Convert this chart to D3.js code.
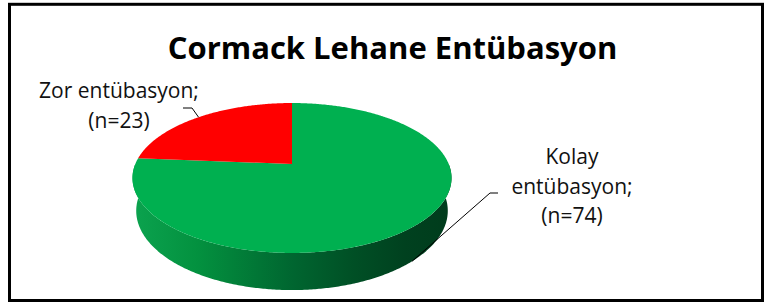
<!DOCTYPE html>
<html>
<head>
<meta charset="utf-8">
<script src="https://cdn.jsdelivr.net/npm/d3@7"></script>
<style>
  body { margin: 0; background: #fff; }
  svg { display: block; }
</style>
</head>
<body>
<div id="chart"></div>
<script>
// Chart data
var categories = ["Kolay entübasyon", "Zor entübasyon"];
var counts = [74, 23];
var labelLines = [["Kolay", "entübasyon;", "(n=74)"], ["Zor entübasyon;", "(n=23)"]];
var sliceColors = ["#00b050", "#ff0000"];
var chartTitle = "Cormack Lehane Entübasyon";

var width = 768, height = 304;

var svg = d3.select("#chart").append("svg")
    .attr("width", width)
    .attr("height", height);

// Simple perspective camera looking down at a unit disk
var cam = { cx: 292, cy: 164, f: 744.7, dist: 4.752, tilt: 27.5 * Math.PI / 180, thick: 0.238 };
var sinT = Math.sin(cam.tilt), cosT = Math.cos(cam.tilt);

function project(u, v, h) {
    var z = cam.dist - h * sinT - v * cosT;
    return [cam.cx + cam.f * u / z, cam.cy - cam.f * (h * cosT - v * sinT) / z];
}
// angle 0 = back of the pie (top of screen), clockwise
function rim(a, h) {
    return project(Math.sin(a), -Math.cos(a), h);
}
function arcPoints(a0, a1, h) {
    var n = Math.max(2, Math.ceil(Math.abs(a1 - a0) / 0.01));
    return d3.range(n + 1).map(function (i) { return rim(a0 + (a1 - a0) * i / n, h); });
}

var pie = d3.pie().sort(null).startAngle(0).endAngle(2 * Math.PI);
var arcs = pie(counts);
var line = d3.line();

// Side gradient (lighter on the left, dark on the right)
var defs = svg.append("defs");
var grad = defs.append("linearGradient")
    .attr("id", "sideGrad")
    .attr("gradientUnits", "userSpaceOnUse")
    .attr("x1", rim(3 * Math.PI / 2, 0)[0]).attr("x2", rim(Math.PI / 2, 0)[0])
    .attr("y1", 0).attr("y2", 0);
[[0, "#0ba24e"], [0.2, "#03913f"], [0.5, "#006630"], [0.7, "#004f25"], [0.86, "#00411f"], [1, "#003c1c"]]
    .forEach(function (s) { grad.append("stop").attr("offset", s[0]).attr("stop-color", s[1]); });

// Front side of each slice (only the part facing the viewer)
var sideFrom = Math.PI / 2, sideTo = 3 * Math.PI / 2;
arcs.forEach(function (d) {
    var a0 = Math.max(d.startAngle, sideFrom), a1 = Math.min(d.endAngle, sideTo);
    if (a1 <= a0) return;
    var pts = arcPoints(a0, a1, 0).concat(arcPoints(a1, a0, -cam.thick));
    svg.append("path")
        .attr("d", line(pts) + "Z")
        .attr("fill", d.index === 0 ? "url(#sideGrad)" : d3.color(sliceColors[d.index]).darker(1));
});

// Top faces
arcs.forEach(function (d) {
    var pts = [project(0, 0, 0)].concat(arcPoints(d.startAngle, d.endAngle, 0));
    svg.append("path")
        .attr("d", line(pts) + "Z")
        .attr("fill", sliceColors[d.index]);
});

// Title
svg.append("text")
    .attr("x", 392.5)
    .attr("y", 59)
    .attr("text-anchor", "middle")
    .attr("font-family", "'Open Sans', sans-serif")
    .attr("font-weight", "bold")
    .attr("font-size", 31)
    .attr("fill", "#000")
    .text(chartTitle);

// Data labels with leader lines
var labelPos = [
    { x: 572, y: 164, elbow: [498, 490, 193], h: -cam.thick },
    { x: 119, y: 98, elbow: [183, 192, 108], h: 0 }
];
arcs.forEach(function (d) {
    var p = labelPos[d.index];
    var mid = (d.startAngle + d.endAngle) / 2;
    var end = rim(mid, p.h);
    svg.append("path")
        .attr("d", line([[p.elbow[0], p.elbow[2]], [p.elbow[1], p.elbow[2]], end]))
        .attr("fill", "none")
        .attr("stroke", "#000")
        .attr("stroke-width", 1);

    var t = svg.append("text")
        .attr("text-anchor", "middle")
        .attr("font-family", "'Open Sans', sans-serif")
        .attr("font-size", 21)
        .attr("fill", "#111");
    labelLines[d.index].forEach(function (s, i) {
        t.append("tspan").attr("x", p.x).attr("y", p.y + i * 29.5).text(s);
    });
});

// Chart frame
svg.append("rect")
    .attr("x", 9.5).attr("y", 4.3)
    .attr("width", 753).attr("height", 296.2)
    .attr("fill", "none")
    .attr("stroke", "#000")
    .attr("stroke-width", 3);
</script>
</body>
</html>
